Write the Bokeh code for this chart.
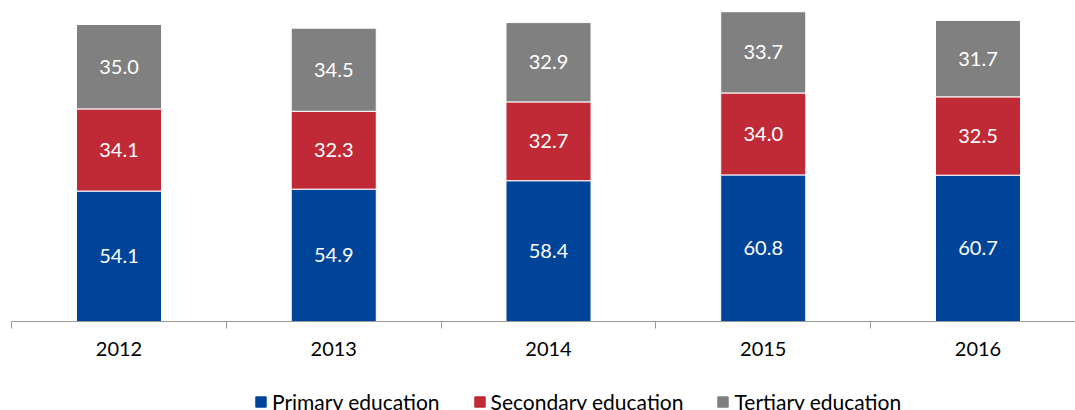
from bokeh.plotting import figure
from bokeh.layouts import column
from bokeh.models import Range1d, FixedTicker, ColumnDataSource, Legend, LegendItem
from bokeh.core.properties import value
from bokeh.embed import file_html
from bokeh.resources import INLINE

years = ["2012", "2013", "2014", "2015", "2016"]
primary = [54.1, 54.9, 58.4, 60.8, 60.7]
secondary = [34.1, 32.3, 32.7, 34.0, 32.5]
tertiary = [35.0, 34.5, 32.9, 33.7, 31.7]
series_names = ["Primary education", "Secondary education", "Tertiary education"]
colors = ["#00449A", "#BF2A36", "#808080"]

FONT = "Lato"
xs = list(range(len(years)))

p = figure(width=1075, height=362, output_backend="svg", toolbar_location=None,
           x_range=Range1d(-0.5006, 4.454), y_range=Range1d(0, 133.16),
           y_axis_location=None, min_border_left=11, min_border_right=0,
           min_border_top=0, min_border_bottom=41)
p.outline_line_color = None
p.xgrid.visible = False
p.ygrid.visible = False

src = ColumnDataSource(dict(x=xs, primary=primary, secondary=secondary, tertiary=tertiary))
p.vbar_stack(["primary", "secondary", "tertiary"], x="x", width=0.396, source=src,
             color=colors, line_color="white", line_width=1)

# data labels
b = [0.0] * len(years)
for vals in (primary, secondary, tertiary):
    mids = [bb + v / 2 for bb, v in zip(b, vals)]
    p.text(x=xs, y=mids, text=[f"{v:.1f}" for v in vals], text_color="white",
           text_font=value(FONT), text_font_size="20px", text_align="center",
           text_baseline="middle")
    b = [bb + v for bb, v in zip(b, vals)]

ax = p.xaxis[0]
ax.ticker = FixedTicker(ticks=xs, minor_ticks=[i - 0.5 for i in range(len(years) + 1)])
ax.major_label_overrides = {i: y for i, y in enumerate(years)}
ax.major_tick_out = 0
ax.major_tick_in = 0
ax.minor_tick_out = 7
ax.minor_tick_in = 0
ax.minor_tick_line_color = "#999999"
ax.axis_line_color = "#999999"
ax.axis_line_width = 1
ax.major_label_standoff = 13
ax.major_label_text_font = FONT
ax.major_label_text_font_size = "20px"
ax.major_label_text_color = "#000000"

# legend strip
lf = figure(width=1075, height=48, output_backend="svg", toolbar_location=None,
            x_range=Range1d(0, 1), y_range=Range1d(0, 1),
            x_axis_location=None, y_axis_location=None,
            min_border_left=0, min_border_right=0, min_border_top=0, min_border_bottom=0)
lf.outline_line_color = None
lf.xgrid.visible = False
lf.ygrid.visible = False
offscreen = ColumnDataSource(dict(x=[5.0], top=[0.0]))
rs = [lf.vbar(x="x", top="top", width=0.1, source=offscreen, color=c) for c in colors]
items = [LegendItem(label=n, renderers=[r]) for n, r in zip(series_names, rs)]
legend = Legend(items=items, orientation="horizontal", location=(243, -4),
                label_text_font=FONT, label_text_font_size="21px",
                label_text_color="#000000", glyph_width=13, glyph_height=13,
                label_standoff=5, spacing=33, padding=0, margin=0,
                border_line_color=None, background_fill_alpha=0)
lf.add_layout(legend, "center")

layout = column(p, lf, spacing=0)
open("out.html", "w").write(file_html(layout, INLINE))
